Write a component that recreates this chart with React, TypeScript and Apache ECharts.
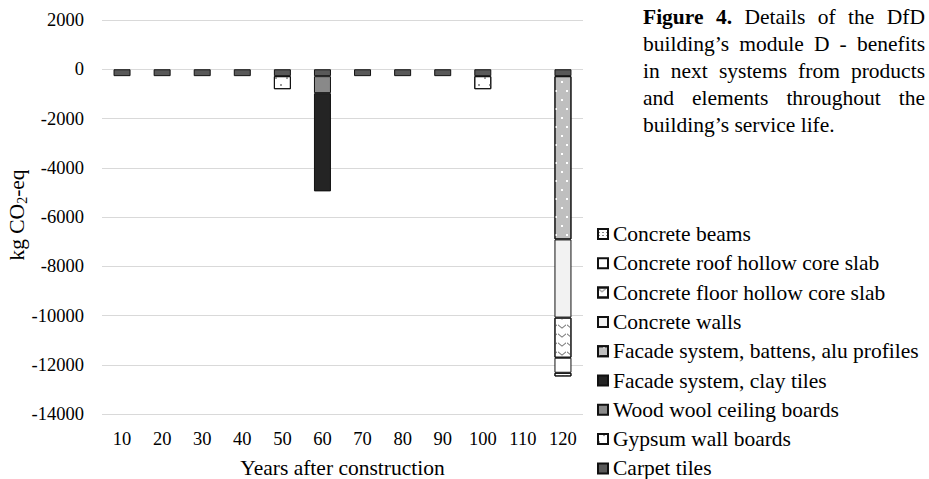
import React, { useEffect, useRef } from 'react';
import * as echarts from 'echarts';

const years = ['10', '20', '30', '40', '50', '60', '70', '80', '90', '100', '110', '120'];
const carpetTiles = [-280, -280, -280, -280, -280, -280, -280, -280, -280, -280, null, -280];
const gypsumWallBoards = [null, null, null, null, -530, null, null, null, null, -530, null, null];
const woodWoolCeilingBoards = [null, null, null, null, null, -690, null, null, null, null, null, null];
const facadeClayTiles = [null, null, null, null, null, -3990, null, null, null, null, null, null];
const facadeBattens = [null, null, null, null, null, null, null, null, null, null, null, -6630];
const concreteWalls = [null, null, null, null, null, null, null, null, null, null, null, -3175];
const concreteFloorSlab = [null, null, null, null, null, null, null, null, null, null, null, -1630];
const concreteRoofSlab = [null, null, null, null, null, null, null, null, null, null, null, -610];
const concreteBeams = [null, null, null, null, null, null, null, null, null, null, null, -150];

const yMin = -14000;
const yMax = 2000;
const yInterval = 2000;

const captionLines = [
  'Figure 4. Details of the DfD',
  'building\u2019s module D - benefits',
  'in next systems from products',
  'and elements throughout the',
  'building\u2019s service life.',
];

const FONT = "'Liberation Serif', 'Times New Roman', serif";
const BIG = 21.5;

function measure(text: string, bold: boolean, size: number) {
  const span = document.createElement('span');
  span.style.position = 'absolute';
  span.style.visibility = 'hidden';
  span.style.whiteSpace = 'pre';
  span.style.fontFamily = FONT;
  span.style.fontSize = size + 'px';
  span.style.fontWeight = bold ? 'bold' : 'normal';
  span.textContent = text;
  document.body.appendChild(span);
  const w = span.getBoundingClientRect().width;
  document.body.removeChild(span);
  return w;
}

function buildCaption() {
  const left = 643;
  const right = 925;
  const size = BIG;
  const top = 17;
  const lh = 27;
  const els: any[] = [];
  captionLines.forEach((line, li) => {
    const words = line.split(' ');
    const boldFlags = words.map((w, wi) => li === 0 && wi < 2);
    const widths = words.map((w, i) => measure(w, boldFlags[i], size));
    const total = widths.reduce((a, b) => a + b, 0);
    const isLast = li === captionLines.length - 1;
    let gap = isLast ? measure(' ', false, size) : (right - left - total) / (words.length - 1);
    if (!isFinite(gap) || gap < 3) gap = 4;
    let x = left;
    words.forEach((w, i) => {
      els.push({
        type: 'text',
        x,
        y: top + li * lh,
        style: {
          text: w,
          fontFamily: FONT,
          fontSize: size,
          fontWeight: boldFlags[i] ? 'bold' : 'normal',
          fill: '#000',
          align: 'left',
          verticalAlign: 'middle',
        },
      });
      x += widths[i] + gap;
    });
  });
  return els;
}

const seriesDefs = [
  { name: 'Carpet tiles', data: carpetTiles, color: '#595959' },
  {
    name: 'Gypsum wall boards', data: gypsumWallBoards, color: '#ffffff',
    decal: { symbol: 'rect', color: '#9a9a9a', symbolSize: 1, dashArrayX: [[1.5, 8.5], [0, 5, 1.5, 3.5]], dashArrayY: [1.5, 5] },
  },
  { name: 'Wood wool ceiling boards', data: woodWoolCeilingBoards, color: '#898989' },
  { name: 'Facade system, clay tiles', data: facadeClayTiles, color: '#242424' },
  {
    name: 'Facade system, battens, alu profiles', data: facadeBattens, color: '#bfbfbf',
    decal: { symbol: 'rect', color: '#ffffff', symbolSize: 1, dashArrayX: [[1.5, 8.5], [0, 5, 1.5, 3.5]], dashArrayY: [1.5, 6.5] },
  },
  { name: 'Concrete walls', data: concreteWalls, color: '#f2f2f2' },
  {
    name: 'Concrete floor hollow core slab', data: concreteFloorSlab, color: '#ffffff',
    decal: { symbol: 'path://M0,0L5,4L10,0L10,1.8L5,5.8L0,1.8Z', color: '#7a7a7a', symbolSize: 1, dashArrayX: [8, 0.5], dashArrayY: [4.5, 3.5] },
  },
  { name: 'Concrete roof hollow core slab', data: concreteRoofSlab, color: '#ffffff' },
  {
    name: 'Concrete beams', data: concreteBeams, color: '#ffffff',
    decal: { symbol: 'rect', color: '#8a8a8a', symbolSize: 1, dashArrayX: [2, 2], dashArrayY: [1, 2] },
  },
];

export default function App() {
  const ref = useRef<HTMLDivElement>(null);
  useEffect(() => {
    if (!ref.current) return;
    document.body.style.margin = '0';
    const chart = echarts.init(ref.current, undefined, { renderer: 'svg' });
    const option: any = {
      animation: false,
      backgroundColor: '#ffffff',
      textStyle: { fontFamily: FONT },
      grid: { left: 102, right: 346, top: 20, bottom: 65, containLabel: false, outerBoundsMode: 'none' },
      legend: {
        orient: 'vertical',
        left: 597,
        top: 223,
        width: 330,
        height: 320,
        padding: 0,
        icon: 'rect',
        itemWidth: 10,
        itemHeight: 10,
        itemGap: 7.3,
        data: seriesDefs.map((s) => s.name).reverse(),
        textStyle: { fontFamily: FONT, fontSize: BIG, color: '#000' },
      },
      xAxis: {
        type: 'category',
        data: years,
        position: 'bottom',
        axisLine: { show: false, onZero: false },
        axisTick: { show: false },
        axisLabel: { fontFamily: FONT, fontSize: 18.5, color: '#000', margin: 15 },
        name: 'Years after construction',
        nameLocation: 'middle',
        nameGap: 43,
        nameTextStyle: { fontFamily: FONT, fontSize: BIG, color: '#000' },
      },
      yAxis: {
        type: 'value',
        min: yMin,
        max: yMax,
        interval: yInterval,
        axisLine: { show: false },
        axisTick: { show: false },
        splitLine: { show: true, lineStyle: { color: '#d9d9d9', width: 1 } },
        axisLabel: { fontFamily: FONT, fontSize: 18.5, color: '#000', margin: 18, formatter: (v: number) => String(v) },
      },
      graphic: [
        {
          type: 'text',
          x: 17,
          y: 215,
          rotation: Math.PI / 2,
          style: {
            text: '{a|kg CO}{b|2}{a|-eq}',
            align: 'center',
            verticalAlign: 'middle',
            rich: {
              a: { fontFamily: FONT, fontSize: BIG, fill: '#000', lineHeight: 24 },
              b: { fontFamily: FONT, fontSize: 14, fill: '#000', lineHeight: 14, verticalAlign: 'bottom' },
            },
          },
        },
        ...buildCaption(),
      ],
      series: seriesDefs.map((s) => ({
        name: s.name,
        type: 'bar',
        stack: 'total',
        barWidth: 17,
        data: s.data,
        itemStyle: {
          color: s.color,
          borderColor: '#111',
          borderWidth: 1,
          ...(s.decal ? { decal: s.decal } : {}),
        },
      })),
    };
    chart.setOption(option);
    return () => chart.dispose();
  }, []);
  return <div ref={ref} style={{ width: 929, height: 479 }} />;
}
